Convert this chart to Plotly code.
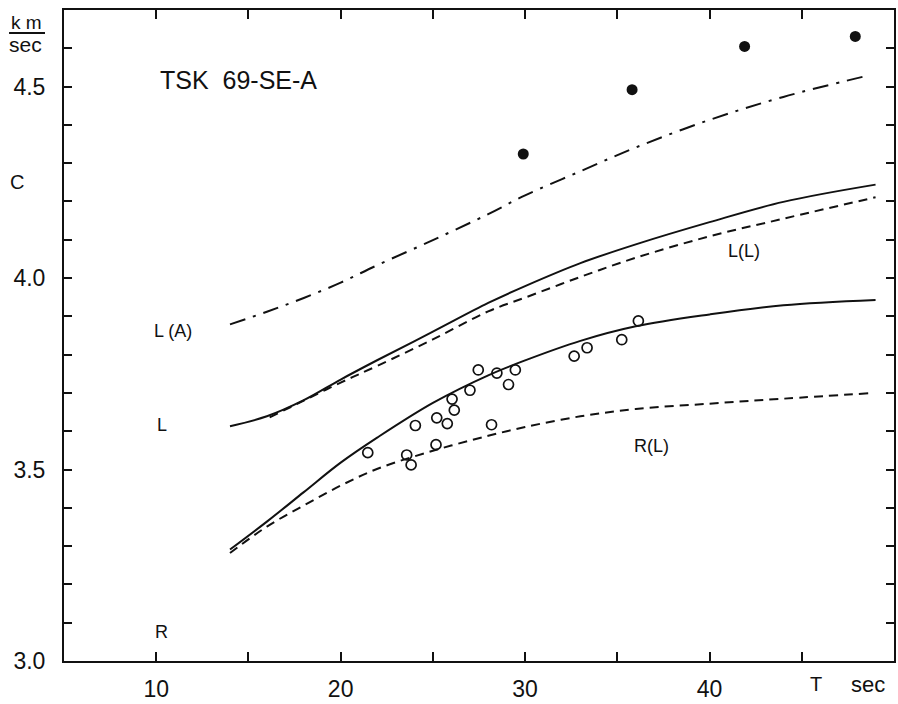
import plotly.graph_objects as go

# ---- data ----
la_T = [14, 16, 18, 20, 22, 25, 28, 30, 33, 36, 40, 44, 48.6]
la_C = [3.879, 3.912, 3.948, 3.988, 4.034, 4.099, 4.167, 4.216, 4.279, 4.341, 4.413, 4.473, 4.529]

l_T = [14, 16, 18, 20, 22, 25, 28, 30, 33, 36, 40, 44, 49]
l_C = [3.613, 3.639, 3.681, 3.735, 3.786, 3.860, 3.935, 3.979, 4.039, 4.088, 4.146, 4.199, 4.244]

ll_T = [16.15, 18, 20, 22, 25, 28, 30, 33, 36, 40, 44, 49]
ll_C = [3.636, 3.680, 3.727, 3.771, 3.840, 3.913, 3.949, 4.003, 4.053, 4.109, 4.155, 4.211]

r_T = [14, 16, 18, 20, 22, 25, 28, 30, 33, 36, 40, 44, 49]
r_C = [3.291, 3.364, 3.441, 3.518, 3.584, 3.674, 3.746, 3.785, 3.836, 3.874, 3.905, 3.929, 3.943]

rl_T = [14, 16, 18, 20, 22, 25, 28, 30, 33, 36, 40, 44, 48.6]
rl_C = [3.282, 3.351, 3.406, 3.458, 3.502, 3.549, 3.588, 3.611, 3.639, 3.658, 3.672, 3.685, 3.699]

obs_T = [21.47, 23.58, 23.82, 24.05, 25.17, 25.21, 25.78, 26.16, 26.04, 27.01,
         27.46, 28.47, 29.10, 29.47, 28.18, 32.66, 33.36, 35.24, 36.14]
obs_C = [3.544, 3.538, 3.512, 3.615, 3.565, 3.635, 3.620, 3.655, 3.684, 3.707,
         3.760, 3.752, 3.722, 3.760, 3.617, 3.796, 3.818, 3.839, 3.888]

fill_T = [29.9, 35.8, 41.9, 47.9]
fill_C = [4.324, 4.492, 4.605, 4.631]

x_ticks = [10, 20, 30, 40]
x_minor = [15, 25, 35, 45]
y_ticks = [3.0, 3.5, 4.0, 4.5]
y_labels = ["3.0", "3.5", "4.0", "4.5"]
y_minor = [3.1, 3.2, 3.3, 3.4, 3.6, 3.7, 3.8, 3.9, 4.1, 4.2, 4.3, 4.4, 4.6]

curve_labels = [
    (10.9, 3.862, "L (A)"),
    (10.3, 3.615, "L"),
    (10.3, 3.076, "R"),
    (36.85, 3.5625, "R(L)"),
    (41.86, 4.070, "L(L)"),
]

INK = "#111111"
FONT = "Liberation Sans"

fig = go.Figure()

def line(x, y, dash):
    fig.add_trace(go.Scatter(x=x, y=y, mode="lines",
                             line=dict(color=INK, width=2, dash=dash, shape="spline", smoothing=1.0),
                             showlegend=False, hoverinfo="skip"))

line(la_T, la_C, "16px,8px,3px,8px")
line(l_T, l_C, "solid")
line(ll_T, ll_C, "9px,6px")
line(r_T, r_C, "solid")
line(rl_T, rl_C, "9px,6px")

fig.add_trace(go.Scatter(x=obs_T, y=obs_C, mode="markers",
                         marker=dict(symbol="circle-open", size=10, color=INK, line=dict(width=1.7)),
                         showlegend=False))
fig.add_trace(go.Scatter(x=fill_T, y=fill_C, mode="markers",
                         marker=dict(symbol="circle", size=11, color=INK),
                         showlegend=False))

for x, y, t in curve_labels:
    fig.add_annotation(x=x, y=y, text=t, showarrow=False, xref="x", yref="y",
                       xanchor="center", yanchor="middle",
                       font=dict(family=FONT, size=18, color=INK))

fig.add_annotation(x=10.09, y=4.518, text="TSK  69-SE-A", showarrow=False,
                   xanchor="left", yanchor="middle",
                   font=dict(family=FONT, size=25, color=INK))

# axis titles
fig.add_annotation(x=-0.068, y=(661 - 182) / 651, xref="paper", yref="paper", text="C",
                   showarrow=False, xanchor="left", yanchor="middle",
                   font=dict(family=FONT, size=20, color=INK))
fig.add_annotation(x=-0.0662, y=(661 - 23) / 651, xref="paper", yref="paper", text="k m",
                   showarrow=False, xanchor="left", yanchor="middle",
                   font=dict(family=FONT, size=19, color=INK))
fig.add_annotation(x=-0.0686, y=(661 - 44) / 651, xref="paper", yref="paper", text="sec",
                   showarrow=False, xanchor="left", yanchor="middle",
                   font=dict(family=FONT, size=21, color=INK))
fig.add_shape(type="line", xref="paper", yref="paper",
              x0=-0.0662, x1=-0.0229, y0=(661 - 33) / 651, y1=(661 - 33) / 651,
              line=dict(color=INK, width=2))
fig.add_annotation(x=45.76, y=3.0, yshift=-23, text="T", showarrow=False,
                   xanchor="center", yanchor="middle",
                   font=dict(family=FONT, size=20, color=INK))
fig.add_annotation(x=48.57, y=3.0, yshift=-23, text="sec", showarrow=False,
                   xanchor="center", yanchor="middle",
                   font=dict(family=FONT, size=22, color=INK))

fig.update_xaxes(range=[5, 50], tickmode="array", tickvals=x_ticks, ticktext=[str(v) for v in x_ticks],
                 ticks="inside", ticklen=9, tickwidth=1.5, tickcolor=INK,
                 minor=dict(tickmode="array", tickvals=x_minor, ticks="inside", ticklen=9, tickwidth=1.5, tickcolor=INK),
                 showline=True, linecolor=INK, linewidth=2, mirror="ticks",
                 showgrid=False, zeroline=False, ticklabelstandoff=6,
                 tickfont=dict(family=FONT, size=23, color=INK))
fig.update_yaxes(range=[3.0, 4.7], tickmode="array", tickvals=y_ticks, ticktext=y_labels,
                 ticks="inside", ticklen=8, tickwidth=1.5, tickcolor=INK,
                 minor=dict(tickmode="array", tickvals=y_minor, ticks="inside", ticklen=8, tickwidth=1.5, tickcolor=INK),
                 showline=True, linecolor=INK, linewidth=2, mirror="ticks",
                 showgrid=False, zeroline=False, ticklabelstandoff=12,
                 tickfont=dict(family=FONT, size=23, color=INK))

fig.update_layout(width=898, height=704, margin=dict(l=64, r=2, t=10, b=43),
                  paper_bgcolor="white", plot_bgcolor="white", showlegend=False)

fig.write_html("out.html")
